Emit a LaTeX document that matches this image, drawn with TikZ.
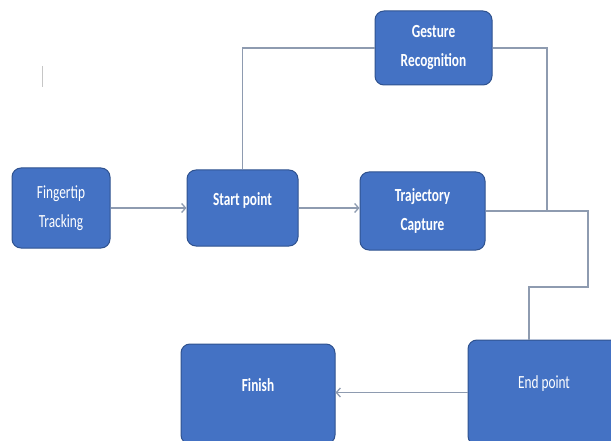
\documentclass[tikz,border=0pt]{standalone}
\usepackage{fontspec}
\newfontfamily\boxfont[FakeStretch=0.72]{Carlito}
\usepackage{tikz}
\usetikzlibrary{positioning,arrows.meta}
\definecolor{boxblue}{HTML}{4472C4}
\definecolor{boxedge}{HTML}{2F528F}
\definecolor{linkgray}{HTML}{8E9BB0}
\tikzset{
    stage/.style={
           rectangle,
           rounded corners=9pt,
           draw=boxedge, line width=1pt,
           fill=boxblue,
           text=white,
           align=center,
           inner sep=2pt,
           font=\boxfont\fontsize{18.5}{29}\selectfont
           },
    heavy/.style={font=\boxfont\fontsize{18.5}{29}\selectfont\bfseries},
    lifted/.style={text depth=18pt},
    link/.style={draw=linkgray, line width=1.3pt},
}
\begin{document}
\begin{tikzpicture}[x=1pt,y=-1pt,>={Straight Barb[length=4pt,width=9pt]}]
\useasboundingbox (0,0) rectangle (611,441);
\clip (0,0) rectangle (611,441);

             \node[stage,
               minimum width=98pt, minimum height=80pt
               ] (fing) at (61,208)
             {Fingertip\\Tracking};

             \node[stage, heavy, lifted,
               minimum width=111pt, minimum height=76pt,
               right=76pt of fing
               ] (start)
             {Start point};

             \node[stage, heavy,
               minimum width=125pt, minimum height=78pt,
               right=61pt of start, yshift=-3pt
               ] (traj)
             {Trajectory\\Capture};

             \node[stage, heavy,
               minimum width=117pt, minimum height=74pt,
               above=86pt of traj, xshift=11pt
               ] (gest)
             {Gesture\\Recognition};

             \node[stage, text depth=21pt,
               minimum width=152pt, minimum height=105pt
               ] (endp) at (544,392.5)
             {End point};

             \node[stage, heavy, lifted,
               minimum width=154pt, minimum height=100pt,
               left=132pt of endp, yshift=-1.5pt
               ] (finish)
             {Finish};

             % elbow points of the return line
             \coordinate (join) at (547,211);
             \coordinate (bendR) at (588,287);
             \coordinate (bendL) at (529,287);

             \path
             (fing.east) edge[link, ->] (fing.east -| start.west)
             (start.east) edge[link, ->] (start.east -| traj.west)
             (endp.west) edge[link, ->] (endp.west -| finish.east)
             ;

             \draw[link] (start.north) |- (gest.west);
             \draw[link] (gest.east) -| (join);
             \draw[link] (traj.east) -| (bendR) -- (bendL) -- (bendL |- endp.north);

             % stray cursor mark
             \draw[gray!45, line width=1pt] (42,66) -- (42,87);

\end{tikzpicture}
\end{document}
